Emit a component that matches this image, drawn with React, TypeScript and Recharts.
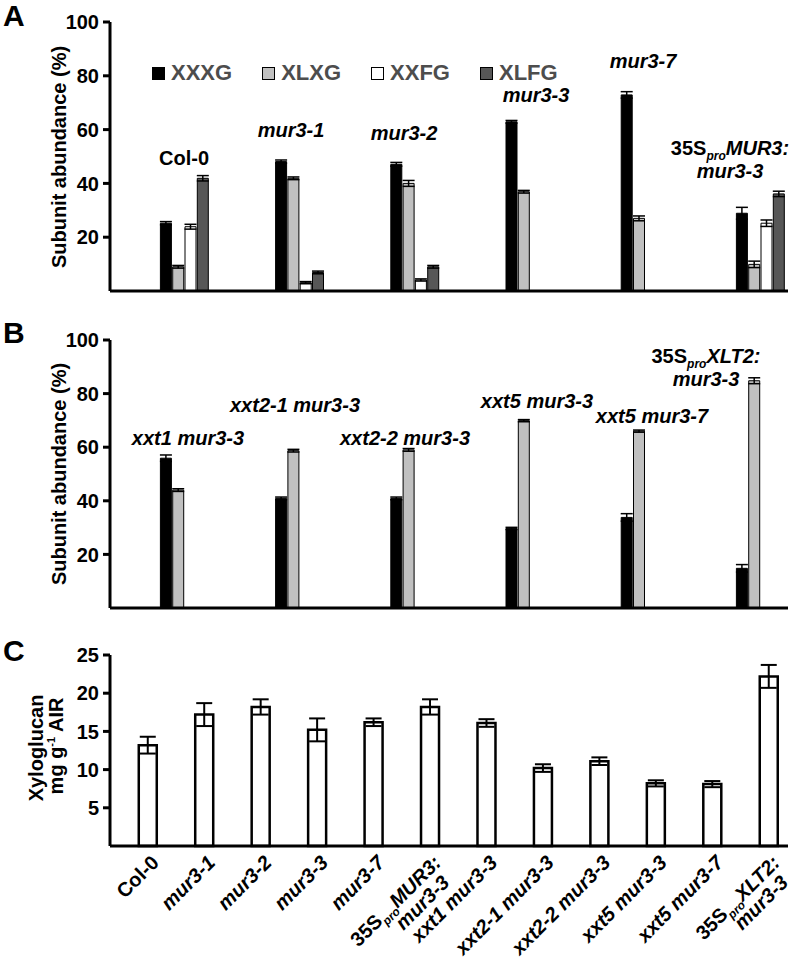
import React from "react";
import { BarChart, Bar, XAxis, YAxis, ErrorBar, Legend } from "recharts";

const FONT = '"Liberation Sans", Arial, Helvetica, sans-serif';

// ---- Panel A: subunit abundance, mur3 alleles ----
const groupsA = ["Col-0", "mur3-1", "mur3-2", "mur3-3", "mur3-7", "35S_{pro}MUR3:\nmur3-3"];
const xxxgA = [25.2, 48.1, 47.1, 62.9, 72.9, 28.9];
const xxxgErrA = [0.6, 0.6, 0.7, 0.5, 1.2, 2.2];
const xlxgA = [9.0, 41.9, 40.0, 36.9, 27.0, 9.9];
const xlxgErrA = [0.5, 0.5, 1.1, 0.5, 0.9, 1.2];
const xxfgA = [23.9, 3.1, 4.1, null, null, 25.2];
const xxfgErrA = [0.9, 0.4, 0.4, null, null, 1.2];
const xlfgA = [41.9, 6.9, 9.0, null, null, 36.1];
const xlfgErrA = [1.0, 0.5, 0.5, null, null, 1.0];

// ---- Panel B: subunit abundance, double mutants ----
const groupsB = ["xxt1 mur3-3", "xxt2-1 mur3-3", "xxt2-2 mur3-3", "xxt5 mur3-3", "xxt5 mur3-7", "35S_{pro}XLT2:\nmur3-3"];
const xxxgB = [55.9, 40.9, 40.9, 29.7, 33.8, 14.8];
const xxxgErrB = [1.2, 0.5, 0.5, 0.4, 1.4, 1.4];
const xlxgB = [44.0, 58.7, 59.0, 69.9, 66.0, 84.8];
const xlxgErrB = [0.5, 0.5, 0.5, 0.4, 0.4, 1.1];

// ---- Panel C: xyloglucan content ----
const groupsC = [...groupsA, ...groupsB];
const xyloglucan = [13.2, 17.2, 18.2, 15.2, 16.2, 18.2, 16.1, 10.2, 11.1, 8.2, 8.1, 22.2];
const xyloglucanErr = [1.1, 1.5, 1.0, 1.5, 0.5, 1.0, 0.5, 0.5, 0.5, 0.4, 0.4, 1.5];

const ticksAB = [20, 40, 60, 80, 100];
const ticksC = [5, 10, 15, 20, 25];

const SERIES = [
  { key: "XXXG", color: "#000000" },
  { key: "XLXG", color: "#c0c0c0" },
  { key: "XXFG", color: "#ffffff" },
  { key: "XLFG", color: "#575757" },
];

const dataA = groupsA.map((name, i) => ({
  x: i,
  name,
  XXXG: xxxgA[i],
  XXXGerr: xxxgErrA[i],
  XLXG: xlxgA[i],
  XLXGerr: xlxgErrA[i],
  XXFG: xxfgA[i],
  XXFGerr: xxfgErrA[i],
  XLFG: xlfgA[i],
  XLFGerr: xlfgErrA[i],
}));

const dataB = groupsB.map((name, i) => ({
  x: i,
  name,
  XXXG: xxxgB[i],
  XXXGerr: xxxgErrB[i],
  XLXG: xlxgB[i],
  XLXGerr: xlxgErrB[i],
}));

const dataC = groupsC.map((name, i) => ({
  x: i,
  name,
  value: xyloglucan[i],
  err: xyloglucanErr[i],
}));

// label text positions (centre x, baseline y) in page pixels
const labelPosA = [[184, 165], [291, 137], [404, 140], [536, 102], [643, 68], [730, 155]];
const labelPosB = [[188, 445], [295, 412], [405, 445], [537, 408], [652, 423], [706, 363]];

const axisStroke = { stroke: "#000", strokeWidth: 3 };
const tickStyle = { fill: "#000", fontSize: 20, fontWeight: "bold", fontFamily: FONT };

// "35S_{pro}MUR3:" -> 35S upright, pro subscript, rest italic
function richLine(line: string) {
  const m = line.match(/^(.*)_\{(.*)\}(.*)$/);
  if (m) {
    return [
      <tspan key="a" fontStyle="normal">{m[1]}</tspan>,
      <tspan key="b" fontStyle="italic" fontSize="0.6em" dy={5}>{m[2]}</tspan>,
      <tspan key="c" fontStyle="italic" dy={-5}>{m[3]}</tspan>,
    ];
  }
  return <tspan fontStyle={line === "Col-0" ? "normal" : "italic"}>{line}</tspan>;
}

function GroupLabel({ text, x, y }: { text: string; x: number; y: number }) {
  const lines = text.split("\n");
  return (
    <text x={x} y={y} textAnchor="middle" fontFamily={FONT} fontWeight="bold" fontSize={20} fill="#000">
      {lines.map((ln, k) => (
        <tspan key={k} x={x} dy={k ? 23 : 0}>
          {richLine(ln)}
        </tspan>
      ))}
    </text>
  );
}

const CTick = (props: any) => {
  const { x, y, payload } = props;
  const lines = groupsC[payload.value].split("\n");
  return (
    <g transform={`translate(${x + 12},${y + 18}) rotate(-45)`}>
      <text x={0} y={0} textAnchor="end" fontFamily={FONT} fontWeight="bold" fontSize={20} fill="#000">
        {lines.map((ln, k) => (
          <tspan key={k} x={k ? -8 : 0} dy={k ? 20 : 0}>
            {richLine(ln)}
          </tspan>
        ))}
      </text>
    </g>
  );
};

const renderLegend = () => (
  <div style={{ display: "flex", alignItems: "center", gap: 30 }}>
    {SERIES.map((s) => (
      <div key={s.key} style={{ display: "flex", alignItems: "center" }}>
        <span
          style={{
            display: "inline-block",
            width: 11,
            height: 11,
            background: s.color,
            border: "1px solid #000",
            marginRight: 6,
          }}
        />
        <span style={{ fontFamily: FONT, fontWeight: "bold", fontSize: 22, lineHeight: "22px", color: "#4d4d4d" }}>
          {s.key}
        </span>
      </div>
    ))}
  </div>
);

function AbundanceBars({ keys }: { keys: string[] }) {
  return (
    <>
      {SERIES.map((s) => (
        <Bar
          key={s.key}
          dataKey={keys.includes(s.key) ? s.key : s.key + "_none"}
          name={s.key}
          fill={s.color}
          stroke="#000"
          strokeWidth={1}
          barSize={11}
          isAnimationActive={false}
        >
          {keys.includes(s.key) && (
            <ErrorBar dataKey={s.key + "err"} width={6} strokeWidth={1.5} stroke="#000" />
          )}
        </Bar>
      ))}
    </>
  );
}

export default function App() {
  return (
    <div style={{ position: "absolute", left: 0, top: 0, width: 793, height: 959, background: "#fff" }}>
      {/* Panel A */}
      <div style={{ position: "absolute", left: 0, top: 0 }}>
        <BarChart width={793} height={296} data={dataA} margin={{ top: 22, right: 5, bottom: 3, left: 0 }} barGap={1.3}>
          <XAxis
            type="number"
            dataKey="x"
            domain={[-0.6424, 5.243]}
            ticks={[0, 1, 2, 3, 4, 5]}
            tick={false}
            tickLine={false}
            axisLine={axisStroke}
            height={2}
          />
          <YAxis
            domain={[0, 100]}
            ticks={ticksAB}
            width={110}
            tick={tickStyle}
            tickSize={7}
            tickMargin={4}
            tickLine={axisStroke}
            axisLine={axisStroke}
          />
          <Legend
            content={renderLegend}
            layout="horizontal"
            align="center"
            verticalAlign="middle"
            wrapperStyle={{ top: 62, left: 152, width: "auto" }}
          />
          {AbundanceBars({ keys: ["XXXG", "XLXG", "XXFG", "XLFG"] })}
        </BarChart>
      </div>

      {/* Panel B */}
      <div style={{ position: "absolute", left: 0, top: 300 }}>
        <BarChart width={793} height={310} data={dataB} margin={{ top: 40, right: 5, bottom: 0, left: 0 }} barGap={1.3}>
          <XAxis
            type="number"
            dataKey="x"
            domain={[-0.6424, 5.243]}
            ticks={[0, 1, 2, 3, 4, 5]}
            tick={false}
            tickLine={false}
            axisLine={axisStroke}
            height={2}
          />
          <YAxis
            domain={[0, 100]}
            ticks={ticksAB}
            width={110}
            tick={tickStyle}
            tickSize={7}
            tickMargin={4}
            tickLine={axisStroke}
            axisLine={axisStroke}
          />
          {AbundanceBars({ keys: ["XXXG", "XLXG"] })}
        </BarChart>
      </div>

      {/* Panel C */}
      <div style={{ position: "absolute", left: 0, top: 630 }}>
        <BarChart width={793} height={329} data={dataC} margin={{ top: 25, right: 5, bottom: 0, left: 0 }}>
          <XAxis
            type="number"
            dataKey="x"
            domain={[-0.673, 11.337]}
            ticks={dataC.map((d) => d.x)}
            interval={0}
            tick={<CTick />}
            tickLine={false}
            tickSize={0}
            tickMargin={0}
            axisLine={axisStroke}
            height={113}
          />
          <YAxis
            domain={[0, 25]}
            ticks={ticksC}
            width={110}
            tick={tickStyle}
            tickSize={7}
            tickMargin={4}
            tickLine={axisStroke}
            axisLine={axisStroke}
          />
          <Bar dataKey="value" fill="#fff" stroke="#000" strokeWidth={2.5} barSize={18} isAnimationActive={false}>
            <ErrorBar dataKey="err" width={8} strokeWidth={2} stroke="#000" />
          </Bar>
        </BarChart>
      </div>

      {/* Annotations */}
      <svg
        width={793}
        height={959}
        style={{ position: "absolute", left: 0, top: 0, pointerEvents: "none" }}
      >
        <g fontFamily={FONT} fontWeight="bold" fill="#000">
          <text x={3} y={26} fontSize={30}>A</text>
          <text x={3} y={343} fontSize={30}>B</text>
          <text x={3} y={661} fontSize={30}>C</text>
          <text transform="translate(66,157) rotate(-90)" textAnchor="middle" fontSize={20}>
            Subunit abundance (%)
          </text>
          <text transform="translate(66,474) rotate(-90)" textAnchor="middle" fontSize={20}>
            Subunit abundance (%)
          </text>
          <text transform="translate(43,748) rotate(-90)" textAnchor="middle" fontSize={20}>
            Xyloglucan
          </text>
          <text transform="translate(63,746) rotate(-90)" textAnchor="middle" fontSize={20}>
            mg g<tspan fontSize={11} dy={-8}>-1</tspan>
            <tspan dy={8}> AIR</tspan>
          </text>
        </g>
        {groupsA.map((g, i) => (
          <GroupLabel key={"a" + i} text={g} x={labelPosA[i][0]} y={labelPosA[i][1]} />
        ))}
        {groupsB.map((g, i) => (
          <GroupLabel key={"b" + i} text={g} x={labelPosB[i][0]} y={labelPosB[i][1]} />
        ))}
      </svg>
    </div>
  );
}
